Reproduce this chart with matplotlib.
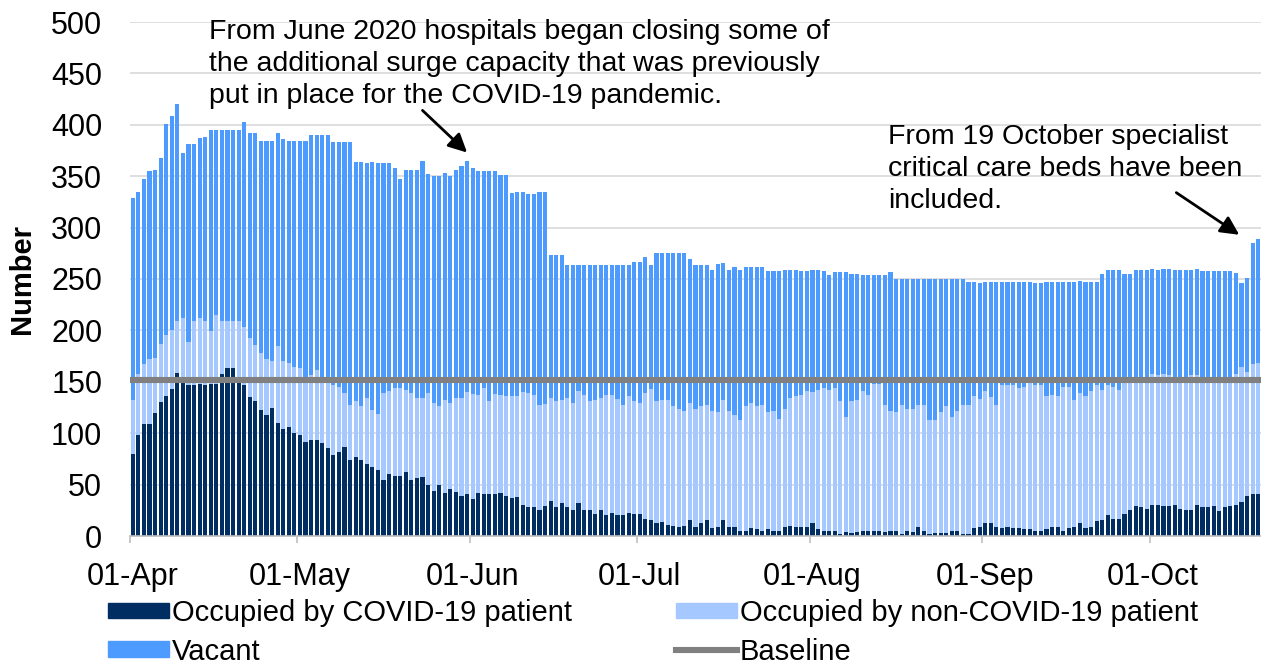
import numpy as np
import pandas as pd
import matplotlib
matplotlib.use('Agg')
import matplotlib.pyplot as plt
from matplotlib.patches import Patch
from matplotlib.lines import Line2D

plt.rcParams['font.family'] = ['Liberation Sans', 'DejaVu Sans']

# daily dates, 01-Apr to 20-Oct 2020
dates = pd.date_range('2020-04-01', '2020-10-20', freq='D')

# patients with COVID-19 in critical care beds
covid = [80, 98, 109, 109, 120, 130, 136, 143, 159, 149, 147, 147, 148, 147, 148, 148, 158, 163, 163, 150,
         147, 135, 131, 123, 118, 125, 110, 104, 106, 100, 98, 91, 93, 93, 90, 86, 79, 82, 87, 74,
         77, 74, 70, 67, 64, 54, 60, 58, 58, 62, 54, 56, 57, 50, 44, 50, 42, 46, 43, 39,
         41, 36, 42, 41, 41, 41, 42, 39, 37, 38, 30, 28, 28, 25, 29, 34, 28, 32, 28, 25,
         32, 25, 25, 21, 25, 20, 22, 20, 20, 22, 21, 21, 17, 16, 13, 14, 11, 10, 9, 10,
         16, 9, 13, 16, 8, 9, 16, 9, 9, 5, 5, 8, 7, 5, 7, 5, 5, 9, 10, 9,
         9, 9, 13, 7, 5, 5, 5, 2, 4, 3, 4, 5, 5, 5, 5, 4, 5, 5, 2, 5,
         4, 9, 5, 2, 3, 3, 3, 5, 5, 2, 2, 8, 9, 13, 13, 9, 8, 9, 8, 8,
         7, 7, 5, 5, 7, 9, 9, 5, 8, 9, 13, 8, 9, 15, 16, 20, 17, 17, 21, 25,
         29, 28, 26, 30, 30, 29, 29, 30, 26, 25, 25, 30, 28, 28, 29, 24, 28, 29, 30, 33,
         39, 41, 41]

# all occupied beds (COVID-19 + non-COVID-19)
occupied = [132, 158, 167, 172, 173, 187, 196, 200, 209, 212, 189, 209, 212, 209, 199, 215, 209, 209, 209, 209,
            203, 193, 186, 178, 172, 170, 185, 170, 168, 164, 163, 155, 157, 161, 152, 150, 147, 145, 139, 127,
            131, 126, 134, 123, 119, 139, 141, 144, 144, 142, 139, 134, 134, 139, 129, 126, 132, 129, 134, 134,
            140, 138, 137, 144, 131, 138, 137, 136, 136, 136, 140, 139, 137, 127, 128, 134, 131, 132, 134, 129,
            141, 137, 131, 132, 134, 137, 137, 133, 127, 136, 131, 129, 139, 143, 131, 132, 132, 126, 124, 122,
            129, 124, 126, 127, 122, 121, 132, 122, 118, 113, 126, 129, 126, 127, 121, 122, 114, 124, 134, 136,
            137, 141, 140, 142, 144, 142, 144, 131, 116, 131, 132, 141, 137, 148, 148, 127, 122, 121, 127, 124,
            124, 127, 127, 113, 113, 121, 126, 116, 122, 127, 127, 136, 133, 141, 135, 127, 147, 147, 147, 144,
            145, 150, 147, 147, 136, 137, 136, 145, 145, 132, 139, 136, 141, 147, 142, 147, 145, 142, 150, 150,
            150, 150, 155, 158, 157, 158, 157, 155, 152, 150, 157, 157, 150, 150, 150, 150, 155, 155, 158, 164,
            160, 167, 168]

# total available beds
total = [329, 335, 347, 355, 356, 368, 401, 409, 420, 373, 381, 381, 387, 388, 395, 395, 395, 395, 395, 395,
         403, 392, 392, 384, 384, 384, 392, 386, 384, 384, 384, 384, 390, 390, 390, 390, 383, 383, 383, 383,
         364, 364, 363, 364, 363, 363, 363, 358, 347, 356, 356, 356, 365, 352, 350, 350, 353, 350, 356, 360,
         365, 358, 355, 355, 355, 355, 351, 351, 334, 335, 335, 333, 333, 335, 335, 273, 273, 273, 264, 264,
         264, 264, 264, 264, 264, 264, 264, 264, 264, 264, 267, 267, 271, 264, 275, 275, 275, 275, 275, 275,
         269, 264, 264, 264, 259, 265, 266, 259, 262, 259, 262, 262, 262, 262, 258, 258, 258, 259, 259, 259,
         258, 258, 259, 259, 258, 254, 257, 257, 257, 255, 255, 254, 254, 254, 254, 254, 257, 250, 250, 250,
         250, 250, 250, 250, 250, 250, 250, 250, 250, 250, 247, 247, 246, 247, 247, 247, 247, 247, 247, 247,
         247, 247, 246, 246, 247, 247, 247, 247, 247, 247, 248, 247, 247, 247, 255, 259, 259, 259, 255, 255,
         259, 259, 259, 260, 259, 260, 260, 259, 259, 259, 259, 260, 258, 258, 258, 258, 258, 258, 256, 246,
         251, 285, 289]

baseline = 152

month_starts = ['2020-04-01', '2020-05-01', '2020-06-01', '2020-07-01',
                '2020-08-01', '2020-09-01', '2020-10-01']

covid = np.array(covid)
occupied = np.array(occupied)
total = np.array(total)
non_covid = occupied - covid
vacant = total - occupied

c_covid = '#002D62'
c_noncovid = '#A4C8FF'
c_vacant = '#4D9BFF'
c_base = '#808080'

fig = plt.figure(figsize=(12.61, 6.65), dpi=100)
ax = fig.add_axes([130 / 1261, 129 / 665, 1131 / 1261, 514 / 665])

x = np.arange(len(dates))
w = 0.76
ax.bar(x, covid, width=w, color=c_covid, linewidth=0)
ax.bar(x, non_covid, width=w, bottom=covid, color=c_noncovid, linewidth=0)
ax.bar(x, vacant, width=w, bottom=occupied, color=c_vacant, linewidth=0)
ax.axhline(baseline, color=c_base, linewidth=4.4, zorder=3)

ax.set_xlim(-0.5, len(dates) - 0.5)
ax.set_ylim(0, 500)
ax.set_yticks(np.arange(0, 501, 50))
ax.yaxis.grid(True, color='#D9D9D9', linewidth=1.2)
ax.set_axisbelow(True)
for s in ['top', 'right', 'left']:
    ax.spines[s].set_visible(False)
ax.spines['bottom'].set_color('#BFBFBF')
ax.spines['bottom'].set_linewidth(1.2)

pos = [dates.get_loc(pd.Timestamp(d)) for d in month_starts]
ax.set_xticks(pos)
ax.set_xticklabels([pd.Timestamp(d).strftime('%d-%b') for d in month_starts])
ax.set_xticks([p - 0.5 for p in pos], minor=True)
ax.tick_params(axis='x', which='major', length=0, pad=18.5, labelsize=22)
ax.tick_params(axis='x', which='minor', length=5, color='#BFBFBF', width=1.2)
ax.tick_params(axis='y', length=0, pad=20, labelsize=22)

ax.set_ylabel('Number', fontsize=21, fontweight='bold')
ax.yaxis.set_label_coords(-0.083, 0.5)

fig.text(209 / 1261, 1 - 19 / 665,
         'From June 2020 hospitals began closing some of\n'
         'the additional surge capacity that was previously\n'
         'put in place for the COVID-19 pandemic.',
         fontsize=20.5, va='top', ha='left', linespacing=1.3)
fig.text(888 / 1261, 1 - 124 / 665,
         'From 19 October specialist\ncritical care beds have been\nincluded.',
         fontsize=20.5, va='top', ha='left', linespacing=1.3)

arrow = dict(arrowstyle='-|>', color='black', lw=2, mutation_scale=28, shrinkA=0, shrinkB=0)
ax.annotate('', xy=(60.0, 373), xytext=(52.0, 414), arrowprops=arrow, annotation_clip=False)
ax.annotate('', xy=(198.6, 293), xytext=(187.3, 334), arrowprops=arrow, annotation_clip=False)

handles = [Patch(color=c_covid), Patch(color=c_vacant),
           Patch(color=c_noncovid), Line2D([], [], color=c_base, lw=4.4)]
labels = ['Occupied by COVID-19 patient', 'Vacant',
          'Occupied by non-COVID-19 patient', 'Baseline']
fig.legend(handles, labels, loc='upper left', bbox_to_anchor=(108 / 1261, 1 - 599 / 665),
           ncol=2, frameon=False, fontsize=21, handlelength=2.1, handleheight=0.45,
           handletextpad=0.1, columnspacing=3.55, labelspacing=0.36,
           borderpad=0, borderaxespad=0)

fig.savefig('out.png', dpi=100)
